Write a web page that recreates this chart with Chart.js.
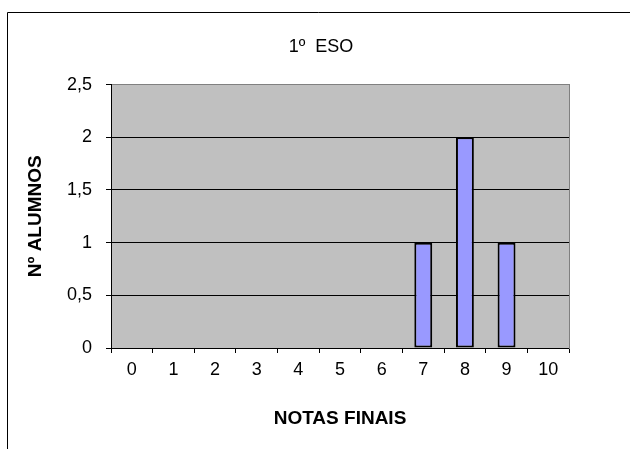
<!DOCTYPE html>
<html>
<head>
<meta charset="utf-8">
<script src="https://cdn.jsdelivr.net/npm/chart.js@4"></script>
<style>
  html, body { margin: 0; padding: 0; background: #fff; }
  #wrap { width: 630px; height: 449px; }
</style>
</head>
<body>
<div id="wrap"><canvas id="chart" width="630" height="449"></canvas></div>
<script>
// chart values
var notas   = ['0', '1', '2', '3', '4', '5', '6', '7', '8', '9', '10'];
var alumnos = [0, 0, 0, 0, 0, 0, 0, 1, 2, 1, 0];
var yMax    = 2.5;
var yStep   = 0.5;

var titulo  = '1º  ESO';
var tituloX = 'NOTAS FINAIS';
var tituloY = 'Nº ALUMNOS';

// ─── Background + frame ──────────────────────────────

var plotBg = {
    id: 'plotBg',
    beforeDraw: function(chart) {
        var ctx = chart.ctx, a = chart.chartArea;
        ctx.save();
        ctx.fillStyle = '#c0c0c0';
        ctx.fillRect(a.left, a.top, a.right - a.left, a.bottom - a.top);
        // outer frame (runs off the right and bottom edges)
        ctx.strokeStyle = '#000';
        ctx.lineWidth = 1;
        ctx.beginPath();
        ctx.moveTo(7.5, 449);
        ctx.lineTo(7.5, 12.5);
        ctx.lineTo(630, 12.5);
        ctx.stroke();
        ctx.restore();
    }
};

var font = 'Liberation Sans, Arial, sans-serif';

new Chart(document.getElementById('chart').getContext('2d'), {
    type: 'bar',
    data: {
        labels: notas,
        datasets: [{
            data: alumnos,
            backgroundColor: '#9999ff',
            borderColor: '#000',
            borderWidth: 2,
            borderSkipped: false,
            barPercentage: 0.43,
            categoryPercentage: 1
        }]
    },
    options: {
        responsive: false, animation: false,
        layout: { padding: { left: 12, right: 0, top: 0, bottom: 0 } },
        plugins: {
            legend: { display: false },
            tooltip: { enabled: false },
            title: {
                display: true, text: titulo, color: '#000',
                font: { family: font, size: 18, weight: 'normal' },
                padding: { top: 36, bottom: 27 }
            }
        },
        scales: {
            x: {
                offset: true,
                grid: { offset: true, drawOnChartArea: false, color: '#000', tickLength: 5 },
                border: { color: '#000', width: 1 },
                ticks: { color: '#000', padding: 6, font: { family: font, size: 18 } },
                title: {
                    display: true, text: tituloX, color: '#000',
                    font: { family: font, size: 19, weight: 'bold' },
                    padding: { bottom: 19 }
                },
                afterFit: function(s) { s.height = 101; }
            },
            y: {
                min: 0, max: yMax,
                grid: {
                    color: function(c) { return c.tick && c.tick.value === yMax ? '#808080' : '#000'; },
                    tickColor: '#000', tickLength: 5
                },
                border: { color: '#000', width: 1 },
                ticks: {
                    stepSize: yStep, color: '#000', padding: 14,
                    font: { family: font, size: 18 },
                    callback: function(v) { return String(v).replace('.', ','); }
                },
                title: {
                    display: true, text: tituloY, color: '#000',
                    font: { family: font, size: 19, weight: 'bold' },
                    padding: { top: 12 }
                },
                afterFit: function(s) { s.width = 99; }
            },
            y2: {
                position: 'right', min: 0, max: 1,
                grid: { drawOnChartArea: false, drawTicks: false },
                border: { color: '#808080', width: 1 },
                ticks: { display: false },
                afterFit: function(s) { s.width = 61; }
            }
        }
    },
    plugins: [plotBg]
});
</script>
</body>
</html>
